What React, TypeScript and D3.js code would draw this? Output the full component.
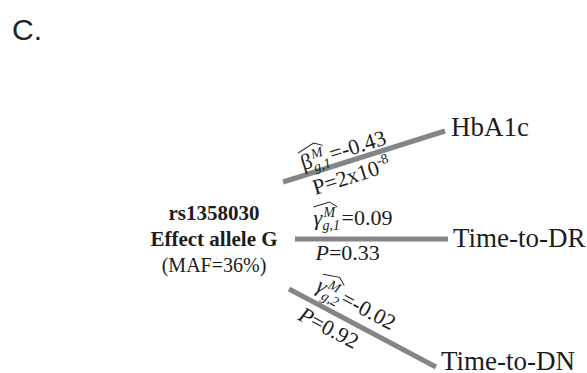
import React from "react";
import * as d3 from "d3";

// diagram content
const panelLabel = "C.";
const snpLines = ["rs1358030", "Effect allele G", "(MAF=36%)"];
const outcomes = ["HbA1c", "Time-to-DR", "Time-to-DN"];
const symbols = ["β", "γ", "γ"];
const subscripts = ["g,1", "g,1", "g,2"];
const estimates = ["=-0.43", "=0.09", "=-0.02"];
const pValues = ["P=2x10", "P=0.33", "P=0.92"];
const pExponents = ["-8", "", ""];

// branch geometry (layout only)
const branchStart: [number, number][] = [[283, 182], [295, 239], [289, 289]];
const branchEnd: [number, number][] = [[445, 131], [448, 239], [436, 367]];
const aboveOffset = [[-62, -5], [-58, -14], [-60, -11]];
const belowOffset = [[-58, 22], [-56, 21], [-62, 23]];
const labelShift = [[6, 5], [5, 8], [5, 3]];

const serif = "Liberation Serif, Times New Roman, Times, serif";
const ink = "#1c1c1c";

function Branch({ i }: { i: number }) {
  const [x0, y0] = branchStart[i];
  const [x1, y1] = branchEnd[i];
  const line = d3.line();
  const mx = (x0 + x1) / 2;
  const my = (y0 + y1) / 2;
  const angle = (Math.atan2(y1 - y0, x1 - x0) * 180) / Math.PI;
  const [ax, ab] = aboveOffset[i];
  const [bx, bb] = belowOffset[i];
  const italicP = i > 0;
  const symW = symbols[i] === "β" ? 12 : 10;
  return (
    <g>
      <path d={line([[x0, y0], [x1, y1]]) || ""} stroke="#858585" strokeWidth={5} fill="none" />
      <g transform={`translate(${mx},${my}) rotate(${angle})`} fill={ink} style={{ fontFamily: serif }}>
        <text x={ax} y={ab} fontSize={22} fontStyle={symbols[i] === "γ" ? "italic" : "normal"}>
          {symbols[i]}
        </text>
        <text x={ax + symW} y={ab - 8} fontSize={14} fontStyle="italic">M</text>
        <text x={ax + symW - 1} y={ab + 5} fontSize={14} fontStyle="italic">{subscripts[i]}</text>
        <path
          d={`M${ax},${ab - 18} L${ax + symW + 6},${ab - 23} L${ax + symW + 14},${ab - 18}`}
          stroke={ink}
          strokeWidth={1}
          fill="none"
        />
        <text x={ax + symW + 18} y={ab} fontSize={22}>{estimates[i]}</text>
        <text x={bx} y={bb} fontSize={22}>
          <tspan fontStyle={italicP ? "italic" : "normal"}>{pValues[i][0]}</tspan>
          {pValues[i].slice(1)}
          {pExponents[i] && (
            <tspan dy={-9} fontSize={14}>{pExponents[i]}</tspan>
          )}
        </text>
      </g>
      <text
        x={x1 + labelShift[i][0]}
        y={y1 + labelShift[i][1]}
        fontSize={27}
        style={{ fontFamily: serif }}
        fill={ink}
      >
        {outcomes[i]}
      </text>
    </g>
  );
}

export default function App() {
  const width = 587;
  const height = 373;
  const lineY = d3.scaleLinear().domain([0, 2]).range([220, 272]);
  return (
    <svg
      width={width}
      height={height}
      style={{ position: "absolute", left: 0, top: 0, background: "#fff" }}
    >
      <text x={12} y={40} fontSize={30} style={{ fontFamily: "Liberation Sans, Arial, sans-serif" }} fill="#222">
        {panelLabel}
      </text>
      {snpLines.map((t, k) => (
        <text
          key={t}
          x={214}
          y={lineY(k)}
          textAnchor="middle"
          fontSize={k < 2 ? 21 : 20}
          fontWeight={k < 2 ? "bold" : "normal"}
          style={{ fontFamily: serif }}
          fill={ink}
        >
          {t}
        </text>
      ))}
      {outcomes.map((o, i) => (
        <Branch key={o} i={i} />
      ))}
    </svg>
  );
}
